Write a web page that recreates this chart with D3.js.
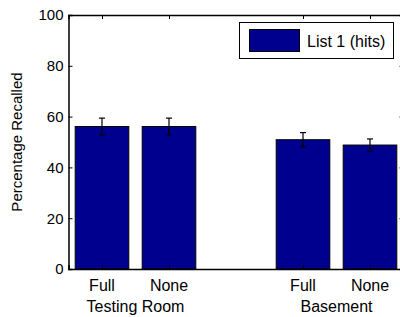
<!DOCTYPE html>
<html>
<head>
<meta charset="utf-8">
<script src="https://cdn.jsdelivr.net/npm/d3@7"></script>
<style>
  body { margin: 0; background: #fff; }
  svg { display: block; font-family: "Liberation Sans", Arial, sans-serif; }
</style>
</head>
<body>
<div id="chartContainer"></div>
<script>
const conditions = ['Full', 'None', 'Full', 'None'];
const positions = [1, 2, 4, 5];
const groups = ['Testing Room', 'Basement'];
const groupPositions = [1.5, 4.5];
const hits = [56.1, 56.1, 50.9, 48.8];
const errors = [3.3, 3.3, 2.8, 2.4];
const yTicks = [0, 20, 40, 60, 80, 100];
const legendLabel = 'List 1 (hits)';

const width = 400;
const height = 317;
const margin = { top: 15, right: -3.5, bottom: 48, left: 68.5 };

const svg = d3.select('#chartContainer')
    .append('svg')
    .attr('width', width)
    .attr('height', height);

const scX = d3.scaleLinear()
    .domain([0.5, 5.5])
    .range([margin.left, width - margin.right]);

const scY = d3.scaleLinear()
    .domain([0, 100])
    .range([height - margin.bottom, margin.top]);

const barW = scX(0.8) - scX(0);
const fill = '#00008f';

// bars
svg.append('g')
    .selectAll('rect')
    .data(hits)
    .enter()
    .append('rect')
    .attr('x', (d, i) => scX(positions[i]) - barW / 2)
    .attr('y', d => scY(d))
    .attr('width', barW)
    .attr('height', d => scY(0) - scY(d))
    .attr('fill', fill)
    .attr('stroke', '#000')
    .attr('stroke-width', 1);

// error bars
const eb = svg.append('g').attr('stroke', '#000').attr('stroke-width', 1.2);
hits.forEach((d, i) => {
    const cx = scX(positions[i]);
    const y1 = scY(d + errors[i]);
    const y2 = scY(d - errors[i]);
    eb.append('line').attr('x1', cx).attr('x2', cx).attr('y1', y1).attr('y2', y2);
    eb.append('line').attr('x1', cx - 3).attr('x2', cx + 3).attr('y1', y1).attr('y2', y1);
    eb.append('line').attr('x1', cx - 3).attr('x2', cx + 3).attr('y1', y2).attr('y2', y2);
});

// axes (box with inward ticks)
const tickLen = 4;
const yAxis = d3.axisLeft(scY).tickValues(yTicks).tickSize(-tickLen).tickPadding(5);
const yAxisR = d3.axisRight(scY).tickValues(yTicks).tickSize(-tickLen).tickFormat('');
const xAxis = d3.axisBottom(scX).tickValues(positions).tickSize(-tickLen).tickFormat('');
const xAxisT = d3.axisTop(scX).tickValues(positions).tickSize(-tickLen).tickFormat('');

function styleAxis(g) {
    g.attr('font-family', null).attr('font-size', null);
    g.select('.domain').attr('stroke', '#000').attr('stroke-width', 1.5);
    g.selectAll('.tick line').attr('stroke', '#000').attr('stroke-width', 1);
    g.selectAll('.tick text').attr('fill', '#000').style('font-size', '15px');
}

svg.append('g').attr('transform', `translate(0, ${scY(0)})`).call(xAxis).call(styleAxis);
svg.append('g').attr('transform', `translate(0, ${scY(100)})`).call(xAxisT).call(styleAxis);
svg.append('g').attr('transform', `translate(${scX(0.5)}, 0)`).call(yAxis).call(styleAxis);
svg.append('g').attr('transform', `translate(${scX(5.5)}, 0)`).call(yAxisR).call(styleAxis);

// condition labels
svg.append('g')
    .selectAll('text')
    .data(conditions)
    .enter()
    .append('text')
    .attr('x', (d, i) => scX(positions[i]))
    .attr('y', scY(0) + 22)
    .attr('text-anchor', 'middle')
    .style('font-size', '16px')
    .text(d => d);

// group labels
svg.append('g')
    .selectAll('text')
    .data(groups)
    .enter()
    .append('text')
    .attr('x', (d, i) => scX(groupPositions[i]))
    .attr('y', scY(0) + 42.5)
    .attr('text-anchor', 'middle')
    .style('font-size', '16px')
    .text(d => d);

// y label
svg.append('text')
    .attr('transform', `translate(22, ${(scY(0) + scY(100)) / 2}) rotate(-90)`)
    .attr('text-anchor', 'middle')
    .style('font-size', '15px')
    .text('Percentage Recalled');

// legend
const lg = svg.append('g').attr('transform', 'translate(239.5, 22.5)');
lg.append('rect').attr('width', 154).attr('height', 36).attr('fill', '#fff').attr('stroke', '#000').attr('stroke-width', 1);
lg.append('rect').attr('x', 10).attr('y', 7).attr('width', 50).attr('height', 22).attr('fill', fill).attr('stroke', '#000');
lg.append('text').attr('x', 67.5).attr('y', 24.5).style('font-size', '16px').text(legendLabel);
</script>
</body>
</html>
